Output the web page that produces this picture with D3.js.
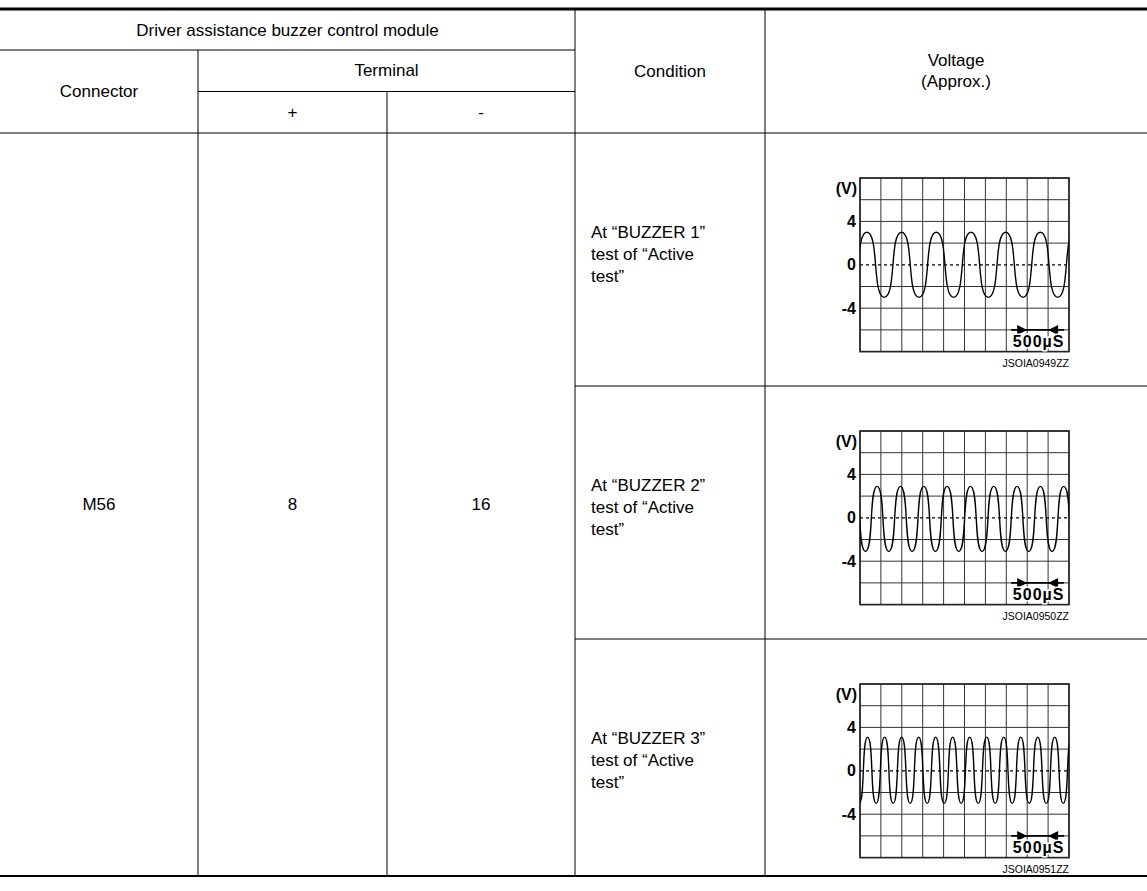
<!DOCTYPE html>
<html lang="en">
<head>
<meta charset="utf-8">
<title>Driver assistance buzzer control module</title>
<script src="https://cdn.jsdelivr.net/npm/d3@7"></script>
<style>
  body { margin: 0; background: #fff; }
  svg text { font-family: "Liberation Sans", Arial, sans-serif; fill: #000; }
</style>
</head>
<body>
<script>

// table text
const moduleTitle = "Driver assistance buzzer control module";
const headConnector = "Connector";
const headTerminal = "Terminal";
const headPlus = "+";
const headMinus = "-";
const headCondition = "Condition";
const headVoltage = ["Voltage", "(Approx.)"];
const connector = "M56";
const terminalPlus = "8";
const terminalMinus = "16";
const conditions = [
  ["At \u201cBUZZER 1\u201d", "test of \u201cActive", "test\u201d"],
  ["At \u201cBUZZER 2\u201d", "test of \u201cActive", "test\u201d"],
  ["At \u201cBUZZER 3\u201d", "test of \u201cActive", "test\u201d"]
];
const figureCodes = ["JSOIA0949ZZ", "JSOIA0950ZZ", "JSOIA0951ZZ"];

// scope grid: time divisions (µs) and voltage lines (V)
const timeDivs = [0, 500, 1000, 1500, 2000, 2500, 3000, 3500, 4000, 4500, 5000];
const voltLines = [8, 6, 4, 2, 0, -2, -4, -6, -8];
const voltTicks = [4, 0, -4];
const unitLabel = "(V)";
const scaleLabel = "500\u00b5S";
const scaleSpan = [4000, 4500];

// turning points (peaks / troughs), µs and V
const buzzer1Times = [-250, 165, 580, 995, 1410, 1825, 2240, 2655, 3070, 3485, 3900, 4315, 4730, 5145];
const buzzer1Volts = [-3.0, 3.0, -3.0, 3.0, -3.0, 3.0, -3.0, 3.0, -3.0, 3.0, -3.0, 3.0, -3.0, 3.0];

const buzzer2Times = [-148, 131, 410, 689, 968, 1247, 1526, 1805, 2084, 2363, 2642, 2921, 3200, 3479, 3758, 4037, 4316, 4595, 4874, 5153];
const buzzer2Volts = [2.9, -3.1, 2.9, -3.1, 2.9, -3.1, 2.9, -3.1, 2.9, -3.1, 2.9, -3.1, 2.9, -3.1, 2.9, -3.1, 2.9, -3.1, 2.9, -3.1];

const buzzer3Times = [-21, 182, 386, 589, 793, 996, 1200, 1403, 1607, 1810, 2014, 2217, 2421, 2624, 2828, 3031, 3235, 3438, 3642, 3845, 4049, 4252, 4456, 4659, 4863, 5066];
const buzzer3Volts = [-3.0, 3.1, -3.0, 3.1, -3.0, 3.1, -3.0, 3.1, -3.0, 3.1, -3.0, 3.1, -3.0, 3.1, -3.0, 3.1, -3.0, 3.1, -3.0, 3.1, -3.0, 3.1, -3.0, 3.1, -3.0, 3.1];

const traces = [
  {times: buzzer1Times, volts: buzzer1Volts},
  {times: buzzer2Times, volts: buzzer2Volts},
  {times: buzzer3Times, volts: buzzer3Volts}
];

// layout
const w = 1147, h = 891;
const colX = [0, 198, 387, 575, 765, 1147];
const topY = 9, headY = [50, 91.5, 133];
const rowY = [133, 386, 639, 876];
const fontSize = 17;

const svg = d3.select("body")
  .append("svg")
  .attr("width", w)
  .attr("height", h);

function hline(x1, x2, y, sw) {
  svg.append("line")
    .attr("x1", x1).attr("x2", x2)
    .attr("y1", y).attr("y2", y)
    .attr("stroke", "#000")
    .attr("stroke-width", sw || 1);
}
function vline(x, y1, y2) {
  svg.append("line")
    .attr("x1", x).attr("x2", x)
    .attr("y1", y1).attr("y2", y2)
    .attr("stroke", "#000")
    .attr("stroke-width", 1);
}
function label(x, y, s, anchor) {
  return svg.append("text")
    .attr("x", x)
    .attr("y", y)
    .attr("text-anchor", anchor || "middle")
    .attr("dominant-baseline", "central")
    .style("font-size", fontSize + "px")
    .text(s);
}

// table rules
hline(0, w, topY, 3);
hline(colX[0], colX[3], headY[0]);
hline(colX[1], colX[3], headY[1]);
hline(0, w, headY[2]);
hline(colX[3], w, rowY[1]);
hline(colX[3], w, rowY[2]);
hline(0, w, rowY[3], 2);
vline(colX[1], headY[0], rowY[3]);
vline(colX[2], headY[1], rowY[3]);
vline(colX[3], topY, rowY[3]);
vline(colX[4], topY, rowY[3]);

// header
label((colX[0] + colX[3]) / 2, (topY + headY[0]) / 2 + 1, moduleTitle);
label((colX[0] + colX[1]) / 2, (headY[0] + headY[2]) / 2, headConnector);
label((colX[1] + colX[3]) / 2, (headY[0] + headY[1]) / 2, headTerminal);
label((colX[1] + colX[2]) / 2, (headY[1] + headY[2]) / 2, headPlus);
label((colX[2] + colX[3]) / 2, (headY[1] + headY[2]) / 2, headMinus);
label((colX[3] + colX[4]) / 2, (topY + headY[2]) / 2, headCondition);
label((colX[4] + colX[5]) / 2, (topY + headY[2]) / 2 - 11, headVoltage[0]);
label((colX[4] + colX[5]) / 2, (topY + headY[2]) / 2 + 10, headVoltage[1]);

// merged body cells
const midBody = (rowY[0] + rowY[3]) / 2;
label((colX[0] + colX[1]) / 2, midBody, connector);
label((colX[1] + colX[2]) / 2, midBody, terminalPlus);
label((colX[2] + colX[3]) / 2, midBody, terminalMinus);

// waveform path through turning points
function tracePath(times, volts, x, y) {
  const p = d3.path();
  p.moveTo(x(times[0]), y(volts[0]));
  for (let i = 1; i < times.length; i++) {
    const x0 = x(times[i - 1]), x1 = x(times[i]);
    const dx = (x1 - x0) * 0.7;
    p.bezierCurveTo(x0 + dx, y(volts[i - 1]), x1 - dx, y(volts[i]), x1, y(volts[i]));
  }
  return p.toString();
}

const plotLeft = 860, cellW = 20.9, cellH = 21.7;

conditions.forEach(function(lines, i) {
  const rowTop = rowY[i];

  lines.forEach(function(s, j) {
    label(colX[3] + 16, rowTop + 99 + j * 22, s, "start");
  });

  const plotTop = rowTop + 45;
  const x = d3.scaleLinear()
    .domain([0, 5000])
    .range([plotLeft, plotLeft + cellW * 10]);
  const y = d3.scaleLinear()
    .domain([8, -8])
    .range([plotTop, plotTop + cellH * 8]);

  const g = svg.append("g").attr("class", "scope");

  g.selectAll(".vgrid")
    .data(timeDivs)
    .enter()
    .append("line")
    .attr("x1", d => x(d)).attr("x2", d => x(d))
    .attr("y1", y(8)).attr("y2", y(-8))
    .attr("stroke", "#333")
    .attr("stroke-width", 1);

  g.selectAll(".hgrid")
    .data(voltLines)
    .enter()
    .append("line")
    .attr("x1", x(0)).attr("x2", x(5000))
    .attr("y1", d => y(d)).attr("y2", d => y(d))
    .attr("stroke", d => d === 0 ? "#000" : "#333")
    .attr("stroke-width", d => d === 0 ? 1.3 : 1)
    .attr("stroke-dasharray", d => d === 0 ? "3,3" : null);

  g.append("rect")
    .attr("x", x(0)).attr("y", y(8))
    .attr("width", x(5000) - x(0))
    .attr("height", y(-8) - y(8))
    .attr("fill", "none")
    .attr("stroke", "#222")
    .attr("stroke-width", 1.6);

  g.append("clipPath")
    .attr("id", "clip" + i)
    .append("rect")
    .attr("x", x(0)).attr("y", y(8))
    .attr("width", x(5000) - x(0))
    .attr("height", y(-8) - y(8));

  g.append("path")
    .attr("d", tracePath(traces[i].times, traces[i].volts, x, y))
    .attr("clip-path", "url(#clip" + i + ")")
    .attr("fill", "none")
    .attr("stroke", "#000")
    .attr("stroke-width", 1.4);

  const axis = d3.axisLeft(y)
    .tickValues(voltTicks)
    .tickFormat(d => String(d))
    .tickSize(0)
    .tickPadding(4);
  g.append("g")
    .attr("transform", "translate(" + x(0) + ",0)")
    .call(axis)
    .call(a => a.select(".domain").remove())
    .attr("font-family", null)
    .selectAll("text")
    .style("font-size", "16px")
    .style("font-weight", "bold");

  g.append("text")
    .attr("x", x(0) - 3)
    .attr("y", (y(8) + y(6)) / 2)
    .attr("text-anchor", "end")
    .attr("dominant-baseline", "central")
    .style("font-size", "16px")
    .style("font-weight", "bold")
    .text(unitLabel);

  // 500µS division marker
  const ay = y(-6);
  g.append("line")
    .attr("x1", x(scaleSpan[0]) - 16).attr("x2", x(scaleSpan[1]) + 16)
    .attr("y1", ay).attr("y2", ay)
    .attr("stroke", "#000")
    .attr("stroke-width", 1.6);
  g.append("path")
    .attr("d", "M" + x(scaleSpan[0]) + "," + ay + "l-10,-5l0,10z")
    .attr("fill", "#000");
  g.append("path")
    .attr("d", "M" + x(scaleSpan[1]) + "," + ay + "l10,-5l0,10z")
    .attr("fill", "#000");
  g.append("text")
    .attr("x", (x(scaleSpan[0]) + x(scaleSpan[1])) / 2 + 1)
    .attr("y", (y(-6) + y(-8)) / 2 + 1)
    .attr("text-anchor", "middle")
    .attr("dominant-baseline", "central")
    .style("font-size", "16px")
    .style("font-weight", "bold")
    .style("letter-spacing", "1px")
    .style("paint-order", "stroke")
    .style("stroke", "#fff")
    .style("stroke-width", "3px")
    .text(scaleLabel);

  g.append("text")
    .attr("x", x(5000))
    .attr("y", y(-8) + 15)
    .attr("text-anchor", "end")
    .style("font-size", "10.5px")
    .text(figureCodes[i]);
});

</script>
</body>
</html>
